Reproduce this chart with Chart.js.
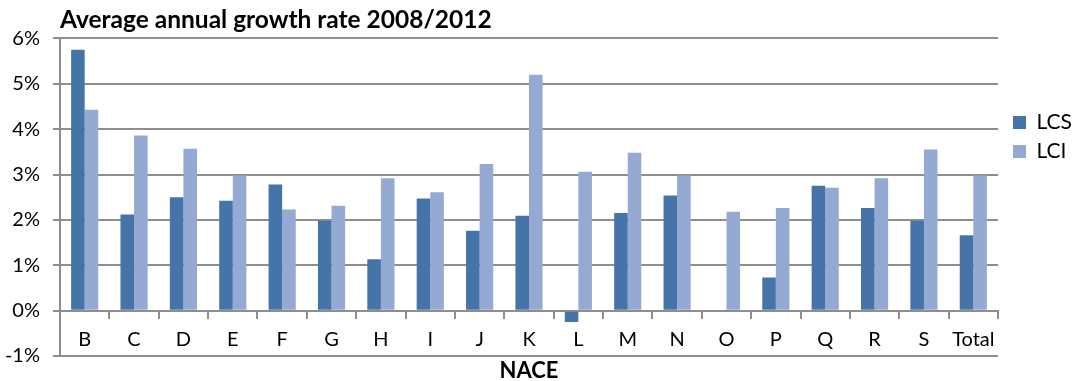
<!DOCTYPE html>
<html>
<head>
<meta charset="utf-8">
<script src="https://cdn.jsdelivr.net/npm/chart.js@4.4.1/dist/chart.umd.min.js"></script>
<style>
  html, body { margin: 0; padding: 0; background: #fff; }
</style>
</head>
<body>
<canvas id="myChart" width="1073" height="381"></canvas>
<script>
// data (percent)
const categories = ['B', 'C', 'D', 'E', 'F', 'G', 'H', 'I', 'J', 'K', 'L', 'M', 'N', 'O', 'P', 'Q', 'R', 'S', 'Total'];
const lcs = [5.75, 2.12, 2.50, 2.42, 2.78, 1.98, 1.13, 2.47, 1.76, 2.09, -0.25, 2.15, 2.54, null, 0.73, 2.75, 2.26, 1.98, 1.66];
const lci = [4.43, 3.86, 3.57, 2.98, 2.23, 2.31, 2.92, 2.61, 3.23, 5.20, 3.06, 3.48, 2.98, 2.18, 2.26, 2.71, 2.92, 3.55, 2.98];
const seriesNames = ['LCS', 'LCI'];
const seriesColors = ['#4674a8', '#95aad2'];
const yMin = -1;
const yMax = 6;

const gridColor = '#8e8e8e';
const fontFamily = 'Lato, "Open Sans", sans-serif';

Chart.defaults.color = '#000';
Chart.defaults.font.family = fontFamily;

const data = {
    labels: categories,
    datasets: [
        {
            label: seriesNames[0],
            data: lcs,
            backgroundColor: seriesColors[0],
            borderWidth: 0,
        },
        {
            label: seriesNames[1],
            data: lci,
            backgroundColor: seriesColors[1],
            borderWidth: 0,
        },
    ],
};

// config
const config = {
    type: 'bar',
    data,
    options: {
        responsive: false,
        animation: false,
        categoryPercentage: 0.55,
        barPercentage: 1,
        layout: { padding: { left: 0, right: 0, top: 0, bottom: 23 } },
        plugins: {
            tooltip: { enabled: false },
            title: {
                display: true,
                text: 'Average annual growth rate 2008/2012',
                align: 'start',
                fullSize: false,
                color: '#000',
                font: { size: 24.5, weight: 'bold' },
                padding: { top: 5, bottom: 4 },
            },
            legend: {
                position: 'right',
                align: 'start',
                maxWidth: 68,
                // empty title only pushes the items down
                title: { display: true, text: '', font: { size: 10 }, padding: { top: 92, bottom: 0 } },
                labels: {
                    font: { size: 21 },
                    boxWidth: 13,
                    boxHeight: 13,
                    padding: 8,
                    color: '#000',
                },
            },
        },
        scales: {
            x: {
                position: { y: 0 },
                grid: {
                    drawOnChartArea: false,
                    drawTicks: true,
                    tickLength: 7,
                    color: gridColor,
                    lineWidth: 2,
                    offset: true,
                },
                border: { display: true, color: gridColor, width: 2 },
                ticks: {
                    font: { size: 20 },
                    padding: 10,
                    autoSkip: false,
                    maxRotation: 0,
                    color: '#000',
                },
                title: {
                    display: true,
                    text: 'NACE',
                    color: '#000',
                    font: { size: 22, weight: 'bold' },
                    padding: { top: -4, bottom: 0 },
                },
            },
            y: {
                min: yMin,
                max: yMax,
                afterFit: (scale) => {
                    scale.width = 60;
                },
                grid: {
                    color: gridColor,
                    lineWidth: 2,
                    tickLength: 7,
                },
                border: { display: true, color: gridColor, width: 2 },
                ticks: {
                    stepSize: 1,
                    padding: 13,
                    font: { size: 20 },
                    color: '#000',
                    callback: (v) => v + '%',
                },
            },
            // empty right axis, only keeps a small gap before the legend
            gap: {
                type: 'linear',
                position: 'right',
                display: true,
                grid: { display: false },
                border: { display: false },
                ticks: { display: false },
                afterFit: (scale) => {
                    scale.width = 7;
                },
            },
        },
    },
};

// render init block
const myChart = new Chart(document.getElementById('myChart'), config);
</script>
</body>
</html>
